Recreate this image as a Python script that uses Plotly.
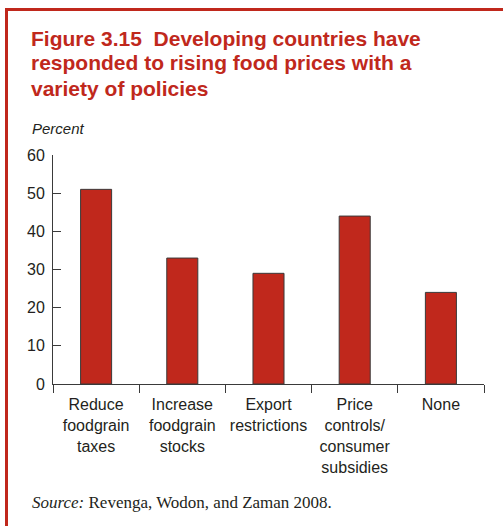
import plotly.graph_objects as go

# data
categories = [
    "Reduce<br>foodgrain<br>taxes",
    "Increase<br>foodgrain<br>stocks",
    "Export<br>restrictions",
    "Price<br>controls/<br>consumer<br>subsidies",
    "None",
]
percent = [51, 33, 29, 44, 24]
y_ticks = [0, 10, 20, 30, 40, 50, 60]

title_lines = [
    "Figure 3.15  Developing countries have",
    "responded to rising food prices with a",
    "variety of policies",
]

RED = "#C0281C"
INK = "#231F20"
AXIS = "#3a3a3a"

# plot area in pixels (503x526 canvas)
W, H = 503, 526
L, R, T, B = 53, 484, 155, 384


def px_x(p):
    return (p - L) / (R - L)


def px_y(p):
    return (B - p) / (B - T)


fig = go.Figure()

fig.add_trace(go.Bar(
    x=categories,
    y=percent,
    width=0.36,
    marker=dict(color=RED, line=dict(color=AXIS, width=1)),
    hoverinfo="y",
))

# red frame on top and left
fig.add_shape(type="line", xref="paper", yref="paper",
              x0=px_x(6.5), x1=px_x(510), y0=px_y(9.5), y1=px_y(9.5),
              line=dict(color=RED, width=3))
fig.add_shape(type="line", xref="paper", yref="paper",
              x0=px_x(6.5), x1=px_x(6.5), y0=px_y(8), y1=px_y(540),
              line=dict(color=RED, width=3))

# title, one annotation per line to keep the tight leading
for i, line in enumerate(title_lines):
    fig.add_annotation(text=f"<b>{line}</b>", xref="paper", yref="paper",
                       x=px_x(29), y=px_y(38 + 25 * i),
                       xanchor="left", yanchor="middle", showarrow=False,
                       font=dict(size=21, color=RED))

fig.add_annotation(text="<i>Percent</i>", xref="paper", yref="paper",
                   x=px_x(30), y=px_y(128), xanchor="left", yanchor="middle",
                   showarrow=False, font=dict(size=15, color=INK))

fig.add_annotation(text="<i>Source:</i> Revenga, Wodon, and Zaman 2008.",
                   xref="paper", yref="paper",
                   x=px_x(30), y=px_y(502), xanchor="left", yanchor="middle",
                   showarrow=False,
                   font=dict(family="Liberation Serif, serif", size=17, color=INK))

fig.update_layout(
    width=W, height=H,
    margin=dict(l=L, r=W - R, t=T, b=H - B, autoexpand=False),
    paper_bgcolor="white",
    plot_bgcolor="white",
    showlegend=False,
    font=dict(family="Liberation Sans, Arial, sans-serif", size=16, color=INK),
    bargap=0.64,
)

fig.update_xaxes(
    type="category",
    range=[-0.5, 4.5],
    showline=True, linecolor=AXIS, linewidth=1,
    ticks="outside", tickson="boundaries", ticklen=8, tickcolor=AXIS,
    tickangle=0, ticklabelstandoff=6,
    showgrid=False, zeroline=False,
    tickfont=dict(size=16, color=INK),
)

fig.update_yaxes(
    range=[0, 60],
    tickvals=y_ticks,
    showline=True, linecolor=AXIS, linewidth=1,
    ticks="inside", ticklen=8, tickcolor=AXIS,
    ticklabelstandoff=4,
    showgrid=False, zeroline=False,
    tickfont=dict(size=16, color=INK),
)

# drop the default 8px body margin so the figure sits at the window's corner
fig.write_html("out.html", config={"displayModeBar": False},
               post_script="document.body.style.margin='0';")
